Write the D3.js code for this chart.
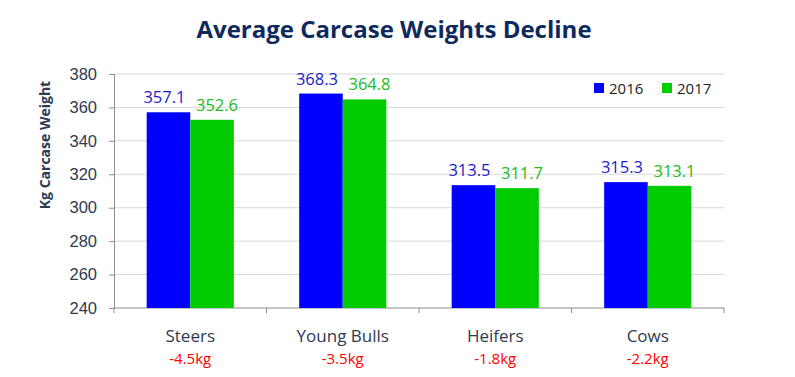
<!DOCTYPE html>
<html lang="en">
<head>
<meta charset="utf-8">
<title>Average Carcase Weights Decline</title>
<script src="https://cdn.jsdelivr.net/npm/d3@7"></script>
<style>
  body { margin: 0; background: white; }
  svg { display: block; font-family: "Open Sans", "Noto Sans", sans-serif; }
  .grid line { stroke: #d9d9d9; }
  .axis text { fill: #2e3a52; }
  .axis path, .axis line { stroke: #8c8c8c; }
</style>
</head>
<body>
<script>
// chart data
var categories = ["Steers", "Young Bulls", "Heifers", "Cows"];
var seriesNames = ["2016", "2017"];
var values2016 = [357.1, 368.3, 313.5, 315.3];
var values2017 = [352.6, 364.8, 311.7, 313.1];
var changes = ["-4.5kg", "-3.5kg", "-1.8kg", "-2.2kg"];
var yTicks = [240, 260, 280, 300, 320, 340, 360, 380];

var colors = {"2016": "#0000ff", "2017": "#00cc00"};
var labelColors = {"2016": "#1c1ccc", "2017": "#22bb22"};

var width = 795, height = 377;
var margin = {left: 114, right: 71, top: 74, bottom: 69};

var svg = d3.select("body").append("svg")
  .attr("width", width)
  .attr("height", height);

var x0 = d3.scaleBand()
  .domain(categories)
  .range([margin.left, width - margin.right]);

var x1 = d3.scaleBand()
  .domain(seriesNames)
  .range([0, x0.bandwidth()])
  .paddingOuter(0.75)
  .paddingInner(0);

var y = d3.scaleLinear()
  .domain([240, 380])
  .range([height - margin.bottom, margin.top]);

// gridlines
svg.append("g").attr("class", "grid")
  .selectAll("line")
  .data(yTicks.slice(1))
  .enter().append("line")
  .attr("x1", margin.left)
  .attr("x2", width - margin.right)
  .attr("y1", function(d) { return y(d); })
  .attr("y2", function(d) { return y(d); });

// y axis
var yAxis = svg.append("g").attr("class", "axis")
  .attr("transform", "translate(" + margin.left + ",0)")
  .call(d3.axisLeft(y).tickValues(yTicks).tickSize(5).tickPadding(12));
yAxis.selectAll("text").style("font-size", "16.5px");

// x axis with boundary ticks
var xAxisG = svg.append("g").attr("class", "axis");
xAxisG.append("line")
  .attr("x1", margin.left).attr("x2", width - margin.right)
  .attr("y1", y(240)).attr("y2", y(240))
  .attr("stroke", "#8c8c8c");
var bounds = categories.map(function(c) { return x0(c); });
bounds.push(x0(categories[categories.length - 1]) + x0.bandwidth());
xAxisG.selectAll(".btick")
  .data(bounds)
  .enter().append("line")
  .attr("class", "btick")
  .attr("x1", function(d) { return d; })
  .attr("x2", function(d) { return d; })
  .attr("y1", y(240))
  .attr("y2", y(240) + 5)
  .attr("stroke", "#8c8c8c");

// bars
var rows = categories.map(function(c, i) {
  return {cat: c, vals: [
    {s: "2016", v: values2016[i]},
    {s: "2017", v: values2017[i]}
  ]};
});

var groups = svg.selectAll(".cat")
  .data(rows)
  .enter().append("g")
  .attr("class", "cat")
  .attr("transform", function(d) { return "translate(" + x0(d.cat) + ",0)"; });

groups.selectAll("rect")
  .data(function(d) { return d.vals; })
  .enter().append("rect")
  .attr("x", function(d) { return x1(d.s); })
  .attr("width", x1.bandwidth())
  .attr("y", function(d) { return y(d.v); })
  .attr("height", function(d) { return y(240) - y(d.v); })
  .attr("fill", function(d) { return colors[d.s]; });

groups.selectAll(".val")
  .data(function(d) { return d.vals; })
  .enter().append("text")
  .attr("class", "val")
  .attr("x", function(d) { return x1(d.s) + x1.bandwidth() / 2 + (d.s === "2016" ? -4 : 5); })
  .attr("y", function(d) { return y(d.v) - 9; })
  .attr("text-anchor", "middle")
  .style("font-size", "16.5px")
  .attr("fill", function(d) { return labelColors[d.s]; })
  .text(function(d) { return d.v.toFixed(1); });

// category labels and changes
groups.append("text")
  .attr("x", x0.bandwidth() / 2)
  .attr("y", 342)
  .attr("text-anchor", "middle")
  .style("font-size", "17px")
  .attr("fill", "#2e3a52")
  .text(function(d) { return d.cat; });

groups.append("text")
  .attr("x", x0.bandwidth() / 2)
  .attr("y", 364)
  .attr("text-anchor", "middle")
  .style("font-size", "15px")
  .attr("fill", "#ff0000")
  .text(function(d, i) { return changes[i]; });

// title
svg.append("text")
  .attr("x", 394)
  .attr("y", 38)
  .attr("text-anchor", "middle")
  .style("font-size", "24px")
  .style("font-weight", "bold")
  .attr("fill", "#0e2a5c")
  .text("Average Carcase Weights Decline");

// y axis title
svg.append("text")
  .attr("transform", "translate(50,145) rotate(-90)")
  .attr("text-anchor", "middle")
  .style("font-size", "14px")
  .style("font-weight", "bold")
  .attr("fill", "#2e3a52")
  .text("Kg Carcase Weight");

// legend
var legend = svg.selectAll(".legend")
  .data(seriesNames)
  .enter().append("g")
  .attr("class", "legend")
  .attr("transform", function(d, i) { return "translate(" + (594 + i * 68) + ",83)"; });
legend.append("rect")
  .attr("width", 10).attr("height", 10)
  .attr("fill", function(d) { return colors[d]; });
legend.append("text")
  .attr("x", 15).attr("y", 10.5)
  .style("font-size", "15px")
  .attr("fill", "#222")
  .text(function(d) { return d; });
</script>
</body>
</html>
